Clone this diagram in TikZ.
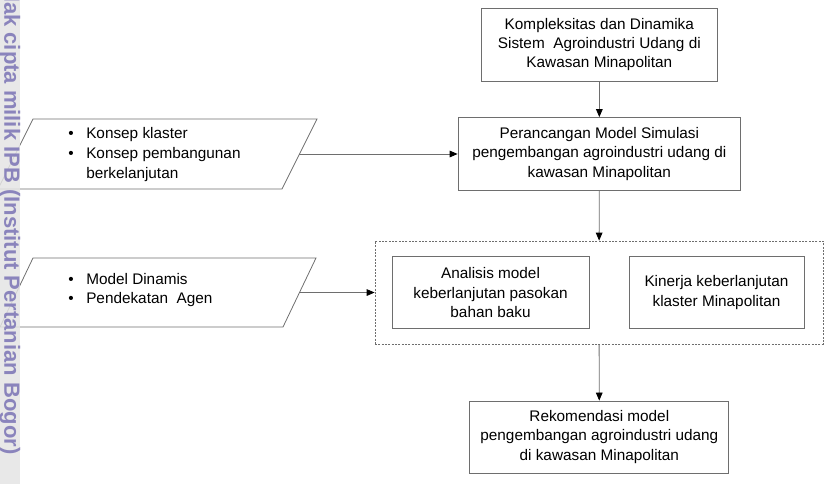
\documentclass[tikz,border=0pt]{standalone}
\usepackage{fontspec}
\setmainfont{Liberation Sans}
\usetikzlibrary{arrows.meta}
\definecolor{garis}{HTML}{6E6E6E}
\definecolor{ungu}{HTML}{8A84BC}
\definecolor{abu}{HTML}{E4E4E4}
\newcommand{\teks}{\fontsize{11.5}{14.3}\selectfont}
\newcommand{\butir}{\makebox[13.5pt][l]{\textbullet}}

\begin{document}
\begin{tikzpicture}[
  kotak/.style={draw=garis, line width=0.6pt, align=center, inner sep=0pt, font=\teks},
  panah/.style={draw=garis, line width=0.6pt, -{Triangle[length=6pt,width=5pt,color=black]}},
  daftar/.style={anchor=north west, align=left, inner sep=0pt, font=\teks}
]
\useasboundingbox (0pt,0pt) rectangle (619.5pt,-363pt);

% kotak utama
\node[kotak, minimum width=177pt, minimum height=54.75pt] (masalah) at (449.5pt,-33.4pt)
  {Kompleksitas dan Dinamika\\Sistem~ Agroindustri Udang di\\Kawasan Minapolitan};
\node[kotak, minimum width=212pt, minimum height=54.75pt] (rancang) at (449.5pt,-115.5pt)
  {Perancangan Model Simulasi\\pengembangan agroindustri udang di\\kawasan Minapolitan};
\node[draw=garis, line width=0.6pt, dash pattern=on 1.5pt off 1pt, minimum width=336pt, minimum height=77.25pt] (analisis) at (449.25pt,-219.4pt) {};
\node[kotak, minimum width=147.75pt, minimum height=54pt] (pasokan) at (367.9pt,-219.4pt)
  {Analisis model\\keberlanjutan pasokan\\bahan baku};
\node[kotak, minimum width=131.25pt, minimum height=54pt] (kinerja) at (537.4pt,-219.4pt)
  {Kinerja keberlanjutan\\klaster Minapolitan};
\node[kotak, minimum width=194.25pt, minimum height=54pt] (rekomendasi) at (449.5pt,-327.75pt)
  {Rekomendasi model\\pengembangan agroindustri udang\\di kawasan Minapolitan};

% masukan
\draw[garis, line width=0.6pt] (24.75pt,-89.25pt) -- (237.75pt,-89.25pt) -- (211.5pt,-141.75pt) -- (-1.5pt,-141.75pt) -- cycle;
\coordinate (konsep) at (224.6pt,-115.5pt);
\node[daftar] (konsepteks) at (51pt,-95.5pt)
  {\butir Konsep klaster\\[0.7pt]\butir Konsep pembangunan\\[0.7pt]\hspace*{13.5pt}berkelanjutan};
\draw[garis, line width=0.6pt] (24.75pt,-193.5pt) -- (237pt,-193.5pt) -- (212.25pt,-245.25pt) -- (0pt,-245.25pt) -- cycle;
\coordinate (metode) at (224.6pt,-219.4pt);
\node[daftar] (metodeteks) at (51pt,-205pt)
  {\butir Model Dinamis\\\butir Pendekatan~ Agen};

% panah
\draw[panah] (masalah) -- (rancang);
\draw[panah] (konsep) -- (rancang);
\draw[panah] (rancang) -- (analisis);
\draw[panah] (metode) -- (analisis);
\draw[panah] (analisis) -- (rekomendasi);

% tanda air
\fill[abu, opacity=0.85] (0pt,0pt) rectangle (15pt,-363pt);
\node[rotate=-90, anchor=east, inner sep=0pt, text=ungu, font=\bfseries\fontsize{16.5}{16.5}\selectfont] (hakcipta) at (7.5pt,-341pt)
  {Hak cipta milik IPB (Institut Pertanian Bogor)};
\end{tikzpicture}
\end{document}
